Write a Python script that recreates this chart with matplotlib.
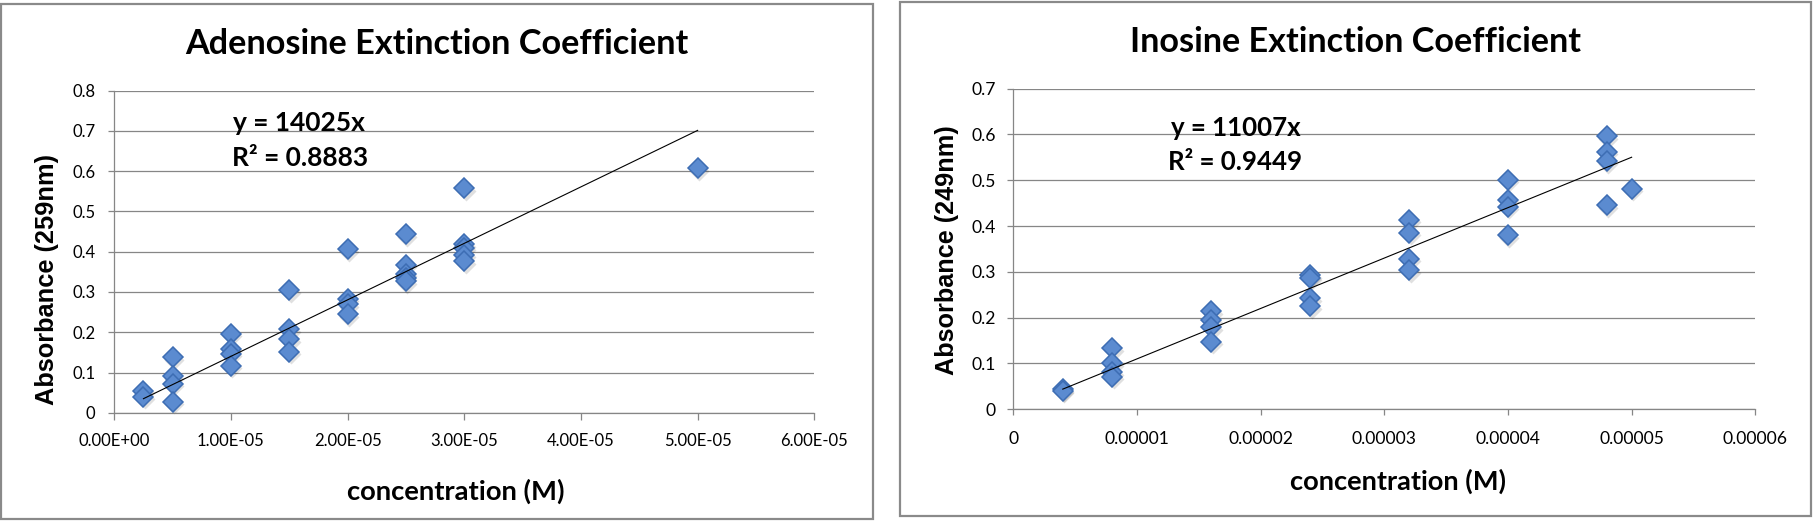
import matplotlib
matplotlib.use("Agg")
import matplotlib.pyplot as plt
from matplotlib.patches import Rectangle
from matplotlib.transforms import offset_copy
import numpy as np

# ---------------- data ----------------
aden_conc = [2.5e-6, 2.5e-6,
             5e-6, 5e-6, 5e-6, 5e-6,
             1e-5, 1e-5, 1e-5, 1e-5,
             1.5e-5, 1.5e-5, 1.5e-5, 1.5e-5,
             2e-5, 2e-5, 2e-5, 2e-5,
             2.5e-5, 2.5e-5, 2.5e-5, 2.5e-5, 2.5e-5,
             3e-5, 3e-5, 3e-5, 3e-5, 3e-5,
             5e-5]
aden_abs = [0.055, 0.040,
            0.138, 0.091, 0.072, 0.028,
            0.196, 0.159, 0.146, 0.117,
            0.304, 0.208, 0.182, 0.151,
            0.406, 0.283, 0.270, 0.245,
            0.443, 0.367, 0.345, 0.335, 0.327,
            0.558, 0.418, 0.410, 0.393, 0.376,
            0.607]
aden_slope = 14025
aden_eq = "y = 14025x"
aden_r2 = "R\u00b2 = 0.8883"

ino_conc = [4e-6, 4e-6,
            8e-6, 8e-6, 8e-6, 8e-6,
            1.6e-5, 1.6e-5, 1.6e-5, 1.6e-5,
            2.4e-5, 2.4e-5, 2.4e-5, 2.4e-5,
            3.2e-5, 3.2e-5, 3.2e-5, 3.2e-5,
            4e-5, 4e-5, 4e-5, 4e-5,
            4.8e-5, 4.8e-5, 4.8e-5, 4.8e-5,
            5e-5]
ino_abs = [0.044, 0.040,
           0.133, 0.100, 0.081, 0.071,
           0.214, 0.194, 0.179, 0.147,
           0.293, 0.287, 0.242, 0.225,
           0.414, 0.385, 0.329, 0.304,
           0.501, 0.457, 0.442, 0.380,
           0.596, 0.562, 0.542, 0.446,
           0.482]
ino_slope = 11007
ino_eq = "y = 11007x"
ino_r2 = "R\u00b2 = 0.9449"

aden_xticks = [0, 1e-5, 2e-5, 3e-5, 4e-5, 5e-5, 6e-5]
aden_xticklabels = ["0.00E+00", "1.00E-05", "2.00E-05", "3.00E-05",
                    "4.00E-05", "5.00E-05", "6.00E-05"]
aden_yticks = [0, 0.1, 0.2, 0.3, 0.4, 0.5, 0.6, 0.7, 0.8]
aden_yticklabels = ["0", "0.1", "0.2", "0.3", "0.4", "0.5", "0.6", "0.7", "0.8"]

ino_xticks = [0, 1e-5, 2e-5, 3e-5, 4e-5, 5e-5, 6e-5]
ino_xticklabels = ["0", "0.00001", "0.00002", "0.00003", "0.00004",
                   "0.00005", "0.00006"]
ino_yticks = [0, 0.1, 0.2, 0.3, 0.4, 0.5, 0.6, 0.7]
ino_yticklabels = ["0", "0.1", "0.2", "0.3", "0.4", "0.5", "0.6", "0.7"]

aden_title = "Adenosine Extinction Coefficient"
ino_title = "Inosine Extinction Coefficient"
xlabel_text = "concentration (M)"
aden_ylabel = "Absorbance (259nm)"
ino_ylabel = "Absorbance (249nm)"

# ---------------- figure ----------------
plt.rcParams["font.family"] = ["Lato", "DejaVu Sans"]
W, H = 1813, 521
fig = plt.figure(figsize=(W / 100, H / 100), dpi=100)
fig.patch.set_facecolor("white")


def fx(px):
    return px / W


def fy(py):
    return 1 - py / H


GRID = "#868686"
FACE = "#5b8bd0"
EDGE = "#3d6db3"

# chart frames
fig.add_artist(Rectangle((fx(1), fy(519)), 872 / W, 515 / H, transform=fig.transFigure,
                         fill=False, ec="#8a8a8a", lw=1.6))
fig.add_artist(Rectangle((fx(900), fy(516)), 911 / W, 514 / H, transform=fig.transFigure,
                         fill=False, ec="#8a8a8a", lw=1.6))

axL = fig.add_axes([fx(114.3), fy(412.8), 700 / W, (412.8 - 90.6) / H])
axR = fig.add_axes([fx(1013.3), fy(409.3), 742 / W, (409.3 - 88.7) / H])


def style(ax, xticks, xlabels, yticks, ylabels, fs, xpad, ypad, xlen):
    ax.set_xlim(xticks[0], xticks[-1])
    ax.set_ylim(yticks[0], yticks[-1])
    ax.set_xticks(xticks)
    ax.set_xticklabels(xlabels)
    ax.set_yticks(yticks)
    ax.set_yticklabels(ylabels)
    ax.grid(axis="y", color=GRID, lw=0.9)
    ax.set_axisbelow(True)
    for s in ["top", "right"]:
        ax.spines[s].set_visible(False)
    for s in ["left", "bottom"]:
        ax.spines[s].set_color(GRID)
        ax.spines[s].set_linewidth(0.9)
    ax.tick_params(axis="x", direction="out", length=xlen, width=0.9, color=GRID,
                   pad=xpad, labelsize=fs, labelcolor="black")
    ax.tick_params(axis="y", direction="out", length=4, width=0.9, color=GRID,
                   pad=ypad, labelsize=fs, labelcolor="black")


style(axL, aden_xticks, aden_xticklabels, aden_yticks, aden_yticklabels, 12.0, 9.8, 9.6, 5)
style(axR, ino_xticks, ino_xticklabels, ino_yticks, ino_yticklabels, 12.6, 11.2, 8.6, 4.3)


def scatter(ax, xs, ys, slope):
    shadow = offset_copy(ax.transData, fig=fig, x=1.5, y=-2.5, units="dots")
    ax.plot(xs, ys, "D", ms=10.6, mfc="black", mec="none", alpha=0.12,
            transform=shadow, zorder=2, clip_on=False)
    ax.plot(xs, ys, "D", ms=10, mfc=FACE, mec=EDGE, mew=1.1, zorder=3, clip_on=False)
    xr = np.array([min(xs), max(xs)])
    ax.plot(xr, slope * xr, color="black", lw=0.8, zorder=4)


scatter(axL, aden_conc, aden_abs, aden_slope)
scatter(axR, ino_conc, ino_abs, ino_slope)

renderer = fig.canvas.get_renderer()


def fit(t, target, vertical=False):
    bb = t.get_window_extent(renderer=renderer)
    cur = bb.height if vertical else bb.width
    t.set_fontsize(t.get_fontsize() * target / cur)
    return t.get_fontsize()


# titles
t = fig.text(fx(437), fy(54), aden_title, ha="center", va="baseline",
             fontsize=22, fontweight="bold")
fit(t, 504)
t = fig.text(fx(1355.5), fy(51.7), ino_title, ha="center", va="baseline",
             fontsize=22, fontweight="bold")
fit(t, 451)

# x labels
t = fig.text(fx(456), fy(500), xlabel_text, ha="center", va="baseline",
             fontsize=18, fontweight="bold")
fit(t, 218)
t = fig.text(fx(1397.5), fy(490), xlabel_text, ha="center", va="baseline",
             fontsize=18, fontweight="bold")
fit(t, 217)

# y labels
t = fig.text(fx(47), fy(279.5), aden_ylabel, ha="center", va="center", rotation=90,
             fontsize=16, fontweight="bold", family=["Liberation Sans", "DejaVu Sans"])
fit(t, 251, vertical=True)
t = fig.text(fx(947), fy(250), ino_ylabel, ha="center", va="center", rotation=90,
             fontsize=16, fontweight="bold", family=["Liberation Sans", "DejaVu Sans"])
fit(t, 250, vertical=True)

# equations
t = fig.text(fx(233), fy(131), aden_eq, ha="left", va="baseline", fontsize=17,
             fontweight="bold")
s = fit(t, 133)
fig.text(fx(232), fy(165.7), aden_r2, ha="left", va="baseline", fontsize=s,
         fontweight="bold")
t = fig.text(fx(1171), fy(136), ino_eq, ha="left", va="baseline", fontsize=17,
             fontweight="bold")
s = fit(t, 130)
fig.text(fx(1168), fy(170.5), ino_r2, ha="left", va="baseline", fontsize=s,
         fontweight="bold")

fig.savefig("out.png", dpi=100, facecolor="white")
